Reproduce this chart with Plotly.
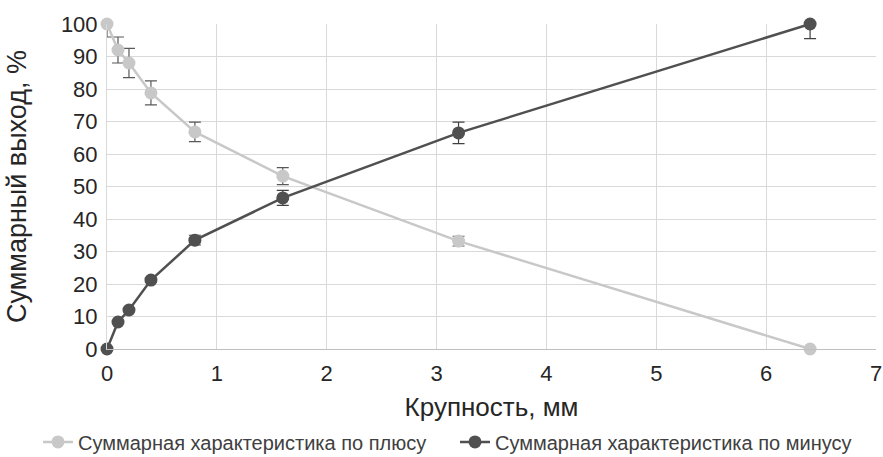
import plotly.graph_objects as go

x_size = [0, 0.1, 0.2, 0.4, 0.8, 1.6, 3.2, 6.4]
plus_vals = [100, 92, 88, 78.8, 66.8, 53.2, 33.2, 0]
plus_err_up = [0, 4, 4.5, 3.7, 3, 2.6, 1.5, 0]
plus_err_down = [4, 4, 4.5, 3.7, 3, 2.6, 1.5, 0]
minus_vals = [0, 8.3, 12, 21.2, 33.5, 46.5, 66.5, 100]
minus_err_up = [0, 0.5, 0.5, 0.7, 1.5, 2.3, 3.3, 0]
minus_err_down = [0, 0.5, 0.5, 0.7, 1.5, 2.3, 3.3, 4.5]

name_plus = "Суммарная характеристика по плюсу"
name_minus = "Суммарная характеристика по минусу"

c_plus = "#c8c8c8"
c_minus = "#505050"
txt = "#262626"

fig = go.Figure()
fig.add_trace(go.Scatter(
    x=x_size, y=plus_vals, name=name_plus, mode="lines+markers",
    line=dict(color=c_plus, width=2.5),
    marker=dict(color=c_plus, size=13),
    cliponaxis=False, legend="legend",
    error_y=dict(type="data", array=plus_err_up, arrayminus=plus_err_down,
                 color="#595959", thickness=1.2, width=6, symmetric=False),
))
fig.add_trace(go.Scatter(
    x=x_size, y=minus_vals, name=name_minus, mode="lines+markers",
    line=dict(color=c_minus, width=2.5),
    marker=dict(color=c_minus, size=13),
    cliponaxis=False, legend="legend2",
    error_y=dict(type="data", array=minus_err_up, arrayminus=minus_err_down,
                 color="#404040", thickness=1.2, width=6, symmetric=False),
))

font_fam = "Liberation Sans, Arial, sans-serif"
leg_common = dict(orientation="h", xref="container", yref="container",
                  xanchor="left", y=0.033, yanchor="middle",
                  font=dict(size=20, color="#404040"), itemwidth=30,
                  bgcolor="rgba(0,0,0,0)")
fig.update_layout(
    width=883, height=457,
    margin=dict(l=107, r=7, t=24, b=108, autoexpand=False),
    paper_bgcolor="white", plot_bgcolor="white",
    font=dict(family=font_fam, color=txt),
    showlegend=True,
    legend=dict(x=38 / 883, **leg_common),
    legend2=dict(x=455 / 883, **leg_common),
    xaxis=dict(range=[0, 7], dtick=1, showgrid=True, gridcolor="#d9d9d9",
               gridwidth=1, zeroline=False, showline=True, linecolor="#bfbfbf",
               mirror=False, tickfont=dict(size=22, color=txt),
               ticks="", ticklabelstandoff=5,
               title=dict(text="Крупность, мм",
                          font=dict(size=26, color=txt), standoff=12)),
    yaxis=dict(range=[0, 100], dtick=10, showgrid=True, gridcolor="#d9d9d9",
               gridwidth=1, zeroline=False, showline=True, linecolor="#d9d9d9",
               tickfont=dict(size=22, color=txt), ticks="",
               ticklabelstandoff=4,
               title=dict(text="Суммарный выход, %",
                          font=dict(size=27, color=txt), standoff=26)),
)
fig.write_html("out.html")
